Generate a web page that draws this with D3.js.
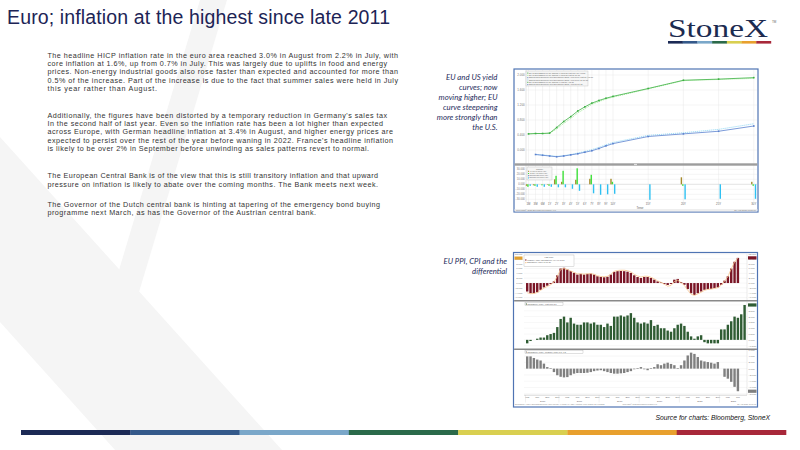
<!DOCTYPE html>
<html lang="en">
<head>
<meta charset="UTF-8">
<title>Euro; inflation at the highest since late 2011</title>
<script src="https://d3js.org/d3.v7.min.js"></script>
<style>
  body { margin: 0; background: #fff; }
  svg { display: block; font-family: "Liberation Sans", Arial, sans-serif; }
</style>
</head>
<body>
<svg width="800" height="450"></svg>
<script>
// ---- chart 1: EU / US curves by tenor ----
const tenors = ["1M","3M","6M","1Y","2Y","3Y","4Y","5Y","6Y","7Y","8Y","9Y","10Y","15Y","20Y","25Y","30Y"];
const tenorYears = [1/12, 0.25, 0.5, 1, 2, 3, 4, 5, 6, 7, 8, 9, 10, 15, 20, 25, 30];
const euCurve     = [0.43,0.44,0.44,0.45,0.60,0.76,0.89,1.04,1.15,1.25,1.32,1.38,1.43,1.64,1.86,1.89,1.93];
const euCurvePrev = [0.43,0.44,0.44,0.45,0.56,0.71,0.84,0.99,1.10,1.22,1.29,1.36,1.41,1.63,1.85,1.88,1.91];
const usCurve     = [null,-0.12,-0.14,-0.16,-0.18,-0.16,-0.13,-0.10,-0.06,-0.02,0.04,0.11,0.17,0.36,0.43,0.50,0.64];
const usCurvePrev = [null,-0.12,-0.13,-0.15,-0.17,-0.15,-0.12,-0.08,-0.04,0.01,0.07,0.14,0.20,0.39,0.46,0.55,0.70];
const euChangeA = [-3,-2,0,-1,10,5,0,9,0,11,0,0,11,0,14,0,5];
const euChangeB = [-5,-3,-2,-3,17,27,0,32,0,19,0,0,5,0,-3,0,-3];
const usChange  = [-3,-5,-5,-5,-6,-6,-9,-13,0,-18,-21,-20,-19,-31,-30,-29,-29];
const curveTicks  = [0, 0.4, 0.8, 1.2, 1.6, 2.0];
const changeTicks = [-30, -20, -10, 0, 10, 20, 30];

// ---- chart 2: PPI, CPI and differential, monthly from Mar 2016 ----
const ppi = [-3.5,-4.2,-4.2,-3.8,-2.8,-1.8,-1.1,-0.4,0.7,3.2,
  6.0,6.3,5.6,4.9,4.2,3.5,3.8,3.5,3.8,3.9,
  3.5,2.8,2.5,2.4,2.6,3.5,4.6,4.9,5.0,4.9,
  4.7,4.2,3.2,2.5,2.1,2.5,2.5,2.1,1.4,0.7,
  0.3,-0.4,-0.8,-0.4,1.4,1.7,0.4,-0.7,-2.5,-4.2,
  -4.9,-4.2,-3.5,-2.8,-2.5,-2.4,-2.1,-1.8,-0.7,1.0,
  2.8,6.0,8.8,10.4];
const ppiLine = [-4.0,-4.4,-4.3,-3.9,-3.0,-2.1,-1.4,-0.7,0.4,2.8,
  5.6,6.0,5.6,5.0,4.4,3.8,3.8,3.7,3.8,3.9,
  3.6,3.0,2.7,2.6,2.8,3.6,4.8,5.2,5.3,5.3,
  5.1,4.6,3.6,2.9,2.5,2.8,2.8,2.4,1.7,0.9,
  0.3,-0.5,-1.3,-1.0,0.6,1.2,0.2,-1.0,-2.9,-4.6,
  -5.1,-4.5,-3.8,-3.0,-2.6,-2.5,-2.2,-1.9,-0.9,0.8,
  2.6,5.8,8.7,10.3];
const cpi = [-0.3,-0.1,0.0,0.1,0.2,0.2,0.4,0.5,0.6,1.1,
  1.8,2.0,1.5,1.9,1.4,1.3,1.3,1.5,1.5,1.4,
  1.5,1.3,1.3,1.1,1.4,1.2,2.0,2.0,2.1,2.0,
  2.1,2.3,1.9,1.5,1.4,1.5,1.4,1.7,1.2,1.3,
  1.0,1.0,0.8,0.7,1.0,1.3,1.4,1.2,0.7,0.3,
  0.1,0.3,0.4,-0.2,-0.3,-0.3,-0.3,-0.3,0.9,0.9,
  1.3,1.6,2.0,1.9,2.2,3.0];
const diff = [3.9,3.9,3.4,2.9,2.6,1.6,0.5,0.2,-1.1,-2.1,
  -2.6,-2.8,-2.7,-2.1,-1.6,-1.4,-1.4,-1.4,-1.3,-1.1,
  -0.8,-0.6,-0.5,-0.8,-1.1,-1.4,-1.6,-1.6,-1.5,-1.4,
  -1.1,-0.8,-0.2,0.2,0.5,-0.2,-0.5,0.2,0.5,1.4,
  1.1,1.6,1.9,1.5,1.1,0.2,1.1,2.6,4.2,5.1,
  4.7,3.7,2.6,2.3,2.1,1.9,1.6,2.1,0.0,-2.6,
  -3.2,-4.2,-5.8,-7.2];
const months = d3.timeMonth.range(new Date(2016, 2, 1), new Date(2021, 8, 1));
const yearLabels = ["2016","2017","2018","2019","2020","2021"];

// ---- slide text ----
const title = "Euro; inflation at the highest since late 2011";
const paragraphs = [
  ["The headline HICP inflation rate in the euro area reached 3.0% in August from 2.2% in July, with",
   "core inflation at 1.6%, up from 0.7% in July.  This was largely due to uplifts in food and energy",
   "prices. Non-energy industrial goods also rose faster than expected and accounted for more than",
   "0.5% of the increase.   Part of the increase is due to the fact that summer sales were held in July",
   "this year rather than August."],
  ["Additionally, the figures have been distorted by a temporary reduction in Germany's sales tax",
   "In the second half of last year. Even so the inflation rate has been a lot higher than expected",
   "across Europe, with German headline inflation at 3.4% in August, and higher energy prices are",
   "expected to persist over the rest of the year before waning in 2022.   France's headline inflation",
   "is likely to be over 2% in September before unwinding as sales patterns revert to normal."],
  ["The European Central Bank is of the view that this is still transitory inflation and that upward",
   "pressure on inflation is likely to abate over the coming months. The Bank meets next week."],
  ["The Governor of the Dutch central bank is hinting at tapering of the emergency bond buying",
   "programme next March, as has the Governor of the Austrian central bank."]
];
const caption1 = ["EU and US yield", "curves; now", "moving higher; EU", "curve steepening", "more strongly than", "the U.S."];
const caption2 = ["EU PPI, CPI and the", "differential"];
const source = "Source for charts: Bloomberg, StoneX";
const brandColors = ["#1c2a55","#34598a","#7aa7c9","#2b6a4a","#d9cf50","#e8a02e","#a8283a"];

const svg = d3.select("svg");

// background chevron of the template
svg.append("path").attr("d", "M200,0 L227,0 L139,292 L119,270 Z").attr("fill", "#f5f5f5");
svg.append("path").attr("d", "M0,137 L282,450 L115,450 L0,322 Z").attr("fill", "#f5f5f5");

// title
svg.append("text").attr("x", 7).attr("y", 23.5)
  .attr("font-size", 19.5).attr("fill", "#1d2456")
  .attr("textLength", 383).attr("lengthAdjust", "spacing")
  .text(title);

// logo
svg.append("text").attr("x", 668).attr("y", 36.5)
  .attr("font-family", "'Liberation Serif', 'DejaVu Serif', serif")
  .attr("font-size", 26).attr("fill", "#1c2b50")
  .attr("textLength", 100).attr("lengthAdjust", "spacingAndGlyphs")
  .text("StoneX");
svg.append("text").attr("x", 772).attr("y", 23).attr("font-size", 3).attr("fill", "#666").text("TM");
const logoBand = d3.scaleBand().domain(d3.range(brandColors.length)).range([668, 771]);
svg.selectAll("rect.logo").data(brandColors).join("rect")
  .attr("x", (d, i) => logoBand(i)).attr("y", 41).attr("width", logoBand.bandwidth() + 0.2)
  .attr("height", 2.6).attr("fill", d => d);

// footer bar
const footBand = d3.scaleBand().domain(d3.range(brandColors.length)).range([21, 786]);
svg.selectAll("rect.foot").data(brandColors).join("rect")
  .attr("x", (d, i) => footBand(i)).attr("y", 430).attr("width", footBand.bandwidth() + 0.3)
  .attr("height", 5).attr("fill", d => d);

// body text
const paraTop = [57.6, 117.6, 178.2, 206.6];
const lineEnds = [[398, 387, 398, 398, 157], [387, 383, 393, 393, 369], [378, 378], [380, 316]];
paragraphs.forEach((lines, p) => {
  lines.forEach((line, i) => {
    svg.append("text").attr("x", 47.5).attr("y", paraTop[p] + i * 8.3)
      .attr("font-size", 7.2).attr("fill", "#333")
      .attr("textLength", lineEnds[p][i] - 47.5).attr("lengthAdjust", "spacing")
      .text(line);
  });
});

// captions
caption1.forEach((t, i) => {
  svg.append("text").attr("x", 497.5).attr("y", 79.5 + i * 10.1)
    .attr("text-anchor", "end").attr("font-family", "Lato, 'Open Sans', sans-serif")
    .attr("font-style", "italic").attr("font-size", 7.8).attr("fill", "#1f2d5c").text(t);
});
caption2.forEach((t, i) => {
  svg.append("text").attr("x", 507).attr("y", 263.5 + i * 10.1)
    .attr("text-anchor", "end").attr("font-family", "Lato, 'Open Sans', sans-serif")
    .attr("font-style", "italic").attr("font-size", 7.8).attr("fill", "#1f2d5c").text(t);
});
svg.append("text").attr("x", 770).attr("y", 419.5).attr("text-anchor", "end")
  .attr("font-style", "italic").attr("font-size", 6.8).attr("fill", "#111").text(source);

// ================= chart 1 =================
const g1 = svg.append("g");
g1.append("rect").attr("x", 514).attr("y", 69).attr("width", 244).attr("height", 143)
  .attr("fill", "#fff").attr("stroke", "#4f74b3").attr("stroke-width", 1.2);
g1.append("rect").attr("x", 514.6).attr("y", 209).attr("width", 242.8).attr("height", 2.4).attr("fill", "#eeeeee");

const unit = d3.scaleLinear().domain([0, 32]).range([528.5, 753.8]);
const xT = d3.scaleLinear().domain([1/12, 0.25, 0.5, 1, 30]).range([0, 1, 2, 3, 32].map(unit));
const yU = d3.scaleLinear().domain([0, 2]).range([150, 75]);
const yL = d3.scaleLinear().domain([-10, 10]).range([189.3, 179.3]);

// grids
g1.selectAll("line.vg").data(tenorYears).join("line")
  .attr("x1", d => xT(d)).attr("x2", d => xT(d)).attr("y1", 70).attr("y2", 202)
  .attr("stroke", "#e4e4e4").attr("stroke-width", 0.4);
g1.selectAll("line.hu").data(curveTicks).join("line")
  .attr("x1", 526).attr("x2", 757).attr("y1", d => yU(d)).attr("y2", d => yU(d))
  .attr("stroke", "#e4e4e4").attr("stroke-width", 0.4);
g1.selectAll("line.hl").data(changeTicks).join("line")
  .attr("x1", 526).attr("x2", 757).attr("y1", d => yL(d)).attr("y2", d => yL(d))
  .attr("stroke", d => d === 0 ? "#b8b8b8" : "#e4e4e4").attr("stroke-width", 0.4);
g1.append("line").attr("x1", 526).attr("x2", 526).attr("y1", 70).attr("y2", 202).attr("stroke", "#bbb").attr("stroke-width", 0.4);

// y labels
g1.selectAll("text.yu").data(curveTicks).join("text")
  .attr("x", 524.8).attr("y", d => yU(d) + 1).attr("text-anchor", "end")
  .attr("font-size", 3).attr("fill", "#777").text(d => d3.format(".3f")(d));
g1.selectAll("text.yl").data(changeTicks).join("text")
  .attr("x", 524.8).attr("y", d => yL(d) + 1).attr("text-anchor", "end")
  .attr("font-size", 2.6).attr("fill", "#777").text(d => d3.format(".3f")(d));

// curve lines
function curve(values, color, dash, width, markers) {
  const pts = values.map((v, i) => [tenorYears[i], v]).filter(p => p[1] !== null);
  const line = d3.line().x(p => xT(p[0])).y(p => yU(p[1]));
  g1.append("path").attr("d", line(pts)).attr("fill", "none")
    .attr("stroke", color).attr("stroke-width", width).attr("stroke-dasharray", dash);
  if (markers) {
    g1.selectAll(null).data(pts).join("rect")
      .attr("x", p => xT(p[0]) - 0.8).attr("y", p => yU(p[1]) - 0.8)
      .attr("width", 1.6).attr("height", 1.6).attr("fill", color);
  }
}
curve(euCurvePrev, "#a6ea9c", "1.2,0.8", 0.9, false);
curve(euCurve, "#3cb043", null, 0.8, true);
curve(usCurvePrev, "#94d8f4", "1.2,0.8", 0.9, false);
curve(usCurve, "#5a82cf", null, 0.8, true);

// change bars
function changeBars(values, color, offset) {
  g1.selectAll(null).data(values.map((v, i) => [tenorYears[i], v]).filter(p => p[1] !== 0)).join("rect")
    .attr("x", p => xT(p[0]) + offset).attr("width", 1.4)
    .attr("y", p => yL(Math.max(0, p[1]))).attr("height", p => Math.abs(yL(p[1]) - yL(0)))
    .attr("fill", color);
}
changeBars(euChangeA, "#a68b2c", -2.7);
changeBars(euChangeB, "#3ee03a", -1.3);
changeBars(usChange, "#2fc0f2", 1.0);

// separator between panels
g1.append("rect").attr("x", 514.6).attr("y", 163.3).attr("width", 242.8).attr("height", 2.4).attr("fill", "#9d9d9d");
g1.append("rect").attr("x", 634).attr("y", 163.8).attr("width", 3).attr("height", 1.4).attr("fill", "#ddd");

// legends
g1.append("rect").attr("x", 526).attr("y", 71).attr("width", 62).attr("height", 15)
  .attr("fill", "#f6f6f6").attr("stroke", "#aaa").attr("stroke-width", 0.3);
const legend1 = [["#3cb043", "EU 01 EUR BENCHMARK NOMINAL CURVE Last PRX 30-Aug-21"],
  ["#a6ea9c", "EU 01 EUR BENCHMARK NOMINAL CURVE Last 30-Jul-21"],
  ["#5a82cf", "BS0157 EUR European Govt Benchmark (BGN) Yield Curve Last 30-Aug-21"],
  ["#94d8f4", "BS0157 EUR European Govt Benchmark (BGN) Yield Curve 30-Jul-21"],
  ["#3cb043", "EU 01 EUR BENCHMARK NOMINAL Last 30-Aug-21"],
  ["#5a82cf", "BS0157 EUR European Govt Benchmark (BGN) Yield 30-Jul-21"]];
legend1.forEach((d, i) => {
  g1.append("rect").attr("x", 527.3).attr("y", 72.6 + i * 2.3).attr("width", 1).attr("height", 1).attr("fill", d[0]);
  g1.append("text").attr("x", 529).attr("y", 73.6 + i * 2.3).attr("font-size", 1.9).attr("fill", "#666").text(d[1]);
});
g1.append("rect").attr("x", 527).attr("y", 167).attr("width", 25).attr("height", 13)
  .attr("fill", "#f6f6f6").attr("stroke", "#aaa").attr("stroke-width", 0.3);
g1.append("text").attr("x", 539.5).attr("y", 169.6).attr("text-anchor", "middle").attr("font-size", 2).attr("fill", "#666").text("Change");
const legend2 = [["#a68b2c", "(1) US 01 Curve (bp)"], ["#3ee03a", "(2) EU Y10 Curve (bp)"],
  ["#5a82cf", "BS0157 Bid Curve (bp)"], ["#2fc0f2", "BS0157 Mid Curve (bp)"]];
legend2.forEach((d, i) => {
  g1.append("rect").attr("x", 528).attr("y", 170.8 + i * 2.2).attr("width", 1).attr("height", 1).attr("fill", d[0]);
  g1.append("text").attr("x", 529.6).attr("y", 171.8 + i * 2.2).attr("font-size", 1.8).attr("fill", "#666").text(d[1]);
});

// x axis
g1.selectAll("text.xt").data(tenors).join("text")
  .attr("x", (d, i) => xT(tenorYears[i])).attr("y", 205.3).attr("text-anchor", "middle")
  .attr("font-size", 2.8).attr("fill", "#666").text(d => d);
g1.append("text").attr("x", 640).attr("y", 208.5).attr("text-anchor", "middle").attr("font-size", 2.8).attr("fill", "#666").text("Tenor");
g1.append("text").attr("x", 516).attr("y", 211).attr("font-size", 2.2).attr("fill", "#777").text("Copyright\u00a9 2021 Bloomberg Finance L.P.");
g1.append("text").attr("x", 756).attr("y", 211).attr("text-anchor", "end").attr("font-size", 2.2).attr("fill", "#777").text("30-Aug-2021 08:58:10");

// ================= chart 2 =================
const g2 = svg.append("g");
g2.append("rect").attr("x", 513.5).attr("y", 252.5).attr("width", 244).attr("height", 154.5)
  .attr("fill", "#fff").attr("stroke", "#4f74b3").attr("stroke-width", 1.2);

const xM = d3.scaleBand().domain(months).range([526, 745.8]).paddingInner(0.28);
const step = xM.step();
const panels = [
  { top: 254, bottom: 300, domain: [-7, 12] },
  { top: 301.5, bottom: 348, domain: [-0.7, 3.3] },
  { top: 349.5, bottom: 395, domain: [-8.4, 6.1] }
];
panels.forEach(p => { p.y = d3.scaleLinear().domain(p.domain).range([p.bottom, p.top]); });

panels.forEach((p, k) => {
  const ticks = p.y.ticks(k === 1 ? 7 : 8);
  g2.selectAll(null).data(ticks).join("line")
    .attr("x1", 524).attr("x2", 747).attr("y1", d => p.y(d)).attr("y2", d => p.y(d))
    .attr("stroke", "#e8e8e8").attr("stroke-width", 0.35);
  g2.selectAll(null).data(ticks).join("text")
    .attr("x", 748.5).attr("y", d => p.y(d) + 0.9).attr("font-size", 2.5).attr("fill", "#777")
    .text(d => d3.format(".3f")(d));
  if (k === 0) {
    g2.selectAll(null).data(ticks).join("text")
      .attr("x", 522.5).attr("y", d => p.y(d) + 0.9).attr("text-anchor", "end")
      .attr("font-size", 2.5).attr("fill", "#777").text(d => d3.format(".3f")(d));
  }
  g2.append("line").attr("x1", 747).attr("x2", 747).attr("y1", p.top).attr("y2", p.bottom).attr("stroke", "#ccc").attr("stroke-width", 0.4);
});

function monthBars(values, p, color) {
  g2.selectAll(null).data(values.map((v, i) => [months[i], v])).join("rect")
    .attr("x", d => xM(d[0])).attr("width", xM.bandwidth())
    .attr("y", d => p.y(Math.max(0, d[1]))).attr("height", d => Math.abs(p.y(d[1]) - p.y(0)))
    .attr("fill", color);
}
monthBars(ppi, panels[0], "#7a1526");
monthBars(cpi, panels[1], "#2f5c33");
monthBars(diff, panels[2], "#808080");

g2.append("path")
  .attr("d", d3.line().x((v, i) => xM(months[i]) + xM.bandwidth() / 2).y(v => panels[0].y(v))(ppiLine))
  .attr("fill", "none").attr("stroke", "#f6c58e").attr("stroke-width", 0.8);

// panel separators
[300.2, 348.6].forEach(y => {
  g2.append("rect").attr("x", 514.1).attr("y", y).attr("width", 242.8).attr("height", 1.2).attr("fill", "#6d6d6d");
});

// last value tags
function tag(x, y, color, w) {
  g2.append("rect").attr("x", x).attr("y", y - 1.6).attr("width", w).attr("height", 3.2).attr("fill", color);
}
tag(748, panels[0].y(ppi[ppi.length - 1]), "#7a1526", 8.5);
tag(514.5, panels[0].y(ppiLine[ppiLine.length - 1]), "#e0a030", 8);
tag(748, panels[1].y(cpi[cpi.length - 1]), "#2f5c33", 8.5);
tag(748, panels[2].y(diff[diff.length - 1]), "#808080", 8.5);

// legends
g2.append("rect").attr("x", 524).attr("y", 255).attr("width", 50).attr("height", 11.5)
  .attr("fill", "#fff").attr("stroke", "#999").attr("stroke-width", 0.3);
g2.append("text").attr("x", 549).attr("y", 257.8).attr("text-anchor", "middle").attr("font-size", 2).attr("fill", "#555").text("Last Price");
[["#7a1526", "PPEMUY Index (Eurostat PPI YoY) L1  10.20"], ["#f6c58e", "ECPPEMUY Index  L1  10.20"]].forEach((d, i) => {
  g2.append("rect").attr("x", 525.2).attr("y", 259.4 + i * 2.6).attr("width", 1.2).attr("height", 1.2).attr("fill", d[0]);
  g2.append("text").attr("x", 527.2).attr("y", 260.5 + i * 2.6).attr("font-size", 1.9).attr("fill", "#555").text(d[1]);
});
g2.append("rect").attr("x", 525).attr("y", 302.2).attr("width", 38).attr("height", 3.6)
  .attr("fill", "#fff").attr("stroke", "#999").attr("stroke-width", 0.3);
g2.append("rect").attr("x", 525.8).attr("y", 303.5).attr("width", 1.1).attr("height", 1.1).attr("fill", "#2f5c33");
g2.append("text").attr("x", 527.6).attr("y", 304.6).attr("font-size", 1.9).attr("fill", "#555").text("ECCPEMUY Index - Last Price  3.0");
g2.append("rect").attr("x", 525).attr("y", 350.2).attr("width", 58).attr("height", 3.6)
  .attr("fill", "#fff").attr("stroke", "#999").attr("stroke-width", 0.3);
g2.append("rect").attr("x", 525.8).attr("y", 351.5).attr("width", 1.1).attr("height", 1.1).attr("fill", "#808080");
g2.append("text").attr("x", 527.6).attr("y", 352.6).attr("font-size", 1.9).attr("fill", "#555").text("ECCPEMUY Index - PPEMUY Index (L1)  -7.2");

// x axis: quarter months and years
const quarterMonths = months.filter(d => d.getMonth() % 3 === 2);
g2.selectAll(null).data(quarterMonths).join("text")
  .attr("x", d => xM(d) + xM.bandwidth() / 2).attr("y", 398.4).attr("text-anchor", "middle")
  .attr("font-size", 2.4).attr("fill", "#666").text(d3.timeFormat("%b"));
yearLabels.forEach(yr => {
  const inYear = months.filter(d => d.getFullYear() === +yr);
  const x0 = xM(inYear[0]), x1 = xM(inYear[inYear.length - 1]) + step;
  g2.append("text").attr("x", (x0 + x1) / 2).attr("y", 402).attr("text-anchor", "middle")
    .attr("font-size", 2.4).attr("fill", "#666").text(yr);
  g2.append("line").attr("x1", x0 - 0.5).attr("x2", x0 - 0.5).attr("y1", 395).attr("y2", 402.5)
    .attr("stroke", "#ccc").attr("stroke-width", 0.3);
});
g2.append("line").attr("x1", 524).attr("x2", 747).attr("y1", 395.2).attr("y2", 395.2).attr("stroke", "#999").attr("stroke-width", 0.4);
g2.append("text").attr("x", 515).attr("y", 405).attr("font-size", 1.9).attr("fill", "#888")
  .text("ECCPEMUY Index (Eurostat Eurozone Core MUICP All Items YoY NSA) Monthly 01MAR2016-30AUG2021");
g2.append("text").attr("x", 640).attr("y", 405).attr("text-anchor", "middle").attr("font-size", 1.9).attr("fill", "#888")
  .text("Copyright\u00a9 2021 Bloomberg Finance L.P.");
g2.append("text").attr("x", 756).attr("y", 405).attr("text-anchor", "end").attr("font-size", 1.9).attr("fill", "#888")
  .text("31-Aug-2021 10:06:08");
</script>
</body>
</html>
